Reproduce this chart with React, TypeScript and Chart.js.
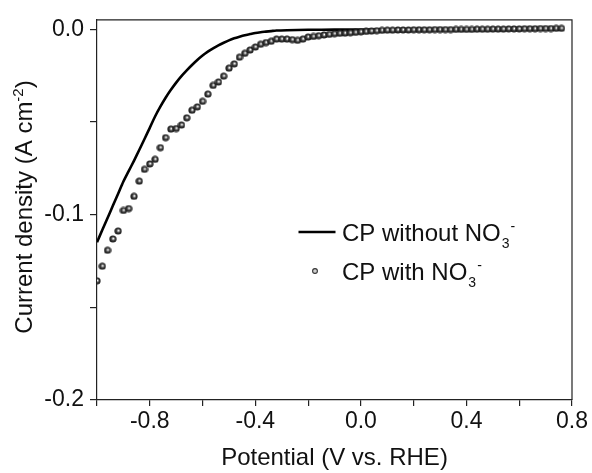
import React, { useEffect, useRef } from "react";
import { Chart, registerables } from "chart.js";

Chart.register(...registerables);

// ---- data ----
const solidX = [
  -1.0, -0.98, -0.96, -0.94, -0.92, -0.9, -0.88, -0.86, -0.84, -0.82, -0.8, -0.78, -0.76, -0.74, -0.72,
  -0.7, -0.68, -0.66, -0.64, -0.62, -0.6, -0.58, -0.56, -0.54, -0.52, -0.5, -0.48, -0.46, -0.44, -0.42,
  -0.4, -0.38, -0.36, -0.34, -0.32, -0.28, -0.2, -0.1, 0.0, 0.2, 0.4, 0.6, 0.76,
];
const solidY = [
  -0.1148, -0.1083, -0.1018, -0.0952, -0.0887, -0.0821, -0.0765, -0.0709, -0.0651, -0.0591, -0.0531, -0.047, -0.0417, -0.0369, -0.0326,
  -0.0287, -0.0252, -0.0221, -0.0192, -0.0165, -0.0141, -0.012, -0.0102, -0.0086, -0.0072, -0.0059, -0.0048, -0.0039, -0.0031, -0.0025,
  -0.0019, -0.0015, -0.0012, -0.0009, -0.0006, -0.0004, -0.0002, -0.0001, -0.0001, 0.0, 0.0, 0.0001, 0.0001,
];

const dotX = [
  -1.0, -0.98, -0.96, -0.94, -0.92, -0.9, -0.88, -0.86, -0.84, -0.82,
  -0.8, -0.78, -0.76, -0.74, -0.72, -0.7, -0.68, -0.66, -0.64, -0.62,
  -0.6, -0.58, -0.56, -0.54, -0.52, -0.5, -0.48, -0.46, -0.44, -0.42,
  -0.4, -0.38, -0.36, -0.34, -0.32, -0.3, -0.28, -0.26, -0.24, -0.22,
  -0.2, -0.18, -0.16, -0.14, -0.12, -0.1, -0.08, -0.06, -0.04, -0.02,
  0.0, 0.02, 0.04, 0.06, 0.08, 0.1, 0.12, 0.14, 0.16, 0.18,
  0.2, 0.22, 0.24, 0.26, 0.28, 0.3, 0.32, 0.34, 0.36, 0.38,
  0.4, 0.42, 0.44, 0.46, 0.48, 0.5, 0.52, 0.54, 0.56, 0.58,
  0.6, 0.62, 0.64, 0.66, 0.68, 0.7, 0.72, 0.74, 0.76,
];
const dotY = [
  -0.1357, -0.1278, -0.1192, -0.1131, -0.1088, -0.0977, -0.0967, -0.0901, -0.0819, -0.0755,
  -0.0726, -0.0701, -0.0638, -0.0584, -0.0538, -0.0535, -0.0516, -0.0477, -0.0436, -0.0418,
  -0.0388, -0.0349, -0.0302, -0.0284, -0.0252, -0.0209, -0.0186, -0.015, -0.0129, -0.0111,
  -0.0095, -0.008, -0.0071, -0.0064, -0.0052, -0.0052, -0.0052, -0.0055, -0.0059, -0.0052,
  -0.0041, -0.0038, -0.0034, -0.003, -0.0027, -0.0023, -0.0021, -0.002, -0.0018, -0.0016,
  -0.0013, -0.0011, -0.0009, -0.0007, -0.0005, -0.0004, -0.0004, -0.0003, -0.0003, -0.0003,
  -0.0002, -0.0002, -0.0002, -0.0002, -0.0001, -0.0001, -0.0001, -0.0001, 0.0, 0.0,
  0.0, 0.0, 0.0001, 0.0001, 0.0001, 0.0002, 0.0002, 0.0002, 0.0003, 0.0003,
  0.0003, 0.0004, 0.0004, 0.0004, 0.0005, 0.0005, 0.0005, 0.0006, 0.0006,
];

const xTicks = [-1.0, -0.8, -0.6, -0.4, -0.2, 0.0, 0.2, 0.4, 0.6, 0.8];
const xTickLabels = ["", "-0.8", "", "-0.4", "", "0.0", "", "0.4", "", "0.8"];
const yTicks = [-0.2, -0.15, -0.1, -0.05, 0.0];
const yTickLabels = ["-0.2", "", "-0.1", "", "0.0"];

const seriesNames = ["CP without NO", "CP with NO"];
const seriesSub = "3";
const seriesSup = "-";
const xTitle = "Potential (V vs. RHE)";
const yTitleMain = "Current density (A cm";
const yTitleSup = "-2";
const yTitleEnd = ")";

const FONT = '"Liberation Sans", Arial, sans-serif';

function labelFor(list: number[], labels: string[], v: number) {
  for (let i = 0; i < list.length; i++) if (Math.abs(list[i] - v) < 1e-6) return labels[i];
  return "";
}

function makeSphere(): HTMLCanvasElement {
  const c = document.createElement("canvas");
  c.width = 8;
  c.height = 8;
  const g = c.getContext("2d")!;
  const grad = g.createRadialGradient(4.5, 3.5, 0.1, 4, 4, 3.7);
  grad.addColorStop(0, "#ffffff");
  grad.addColorStop(0.22, "#b0b0b0");
  grad.addColorStop(0.5, "#404040");
  grad.addColorStop(1, "#0d0d0d");
  g.fillStyle = grad;
  g.beginPath();
  g.arc(4, 4, 3.6, 0, Math.PI * 2);
  g.fill();
  return c;
}

const decorPlugin = {
  id: "decor",
  afterDraw(chart: any) {
    const ctx = chart.ctx as CanvasRenderingContext2D;
    const { left, right, top, bottom } = chart.chartArea;
    ctx.save();
    // frame (top & right)
    ctx.strokeStyle = "#222";
    ctx.lineWidth = 1.2;
    ctx.beginPath();
    ctx.moveTo(left, top);
    ctx.lineTo(right, top);
    ctx.lineTo(right, bottom);
    ctx.stroke();

    ctx.fillStyle = "#111";
    ctx.textBaseline = "alphabetic";

    // x title
    ctx.font = `24px ${FONT}`;
    ctx.textAlign = "center";
    ctx.fillText(xTitle, (left + right) / 2, 465);

    // y title with superscript
    ctx.textAlign = "left";
    ctx.font = `24px ${FONT}`;
    const w1 = ctx.measureText(yTitleMain).width;
    const w3 = ctx.measureText(yTitleEnd).width;
    ctx.font = `15px ${FONT}`;
    const w2 = ctx.measureText(yTitleSup).width;
    const total = w1 + w2 + w3;
    ctx.translate(32, 207);
    ctx.rotate(-Math.PI / 2);
    let x0 = -total / 2;
    ctx.font = `24px ${FONT}`;
    ctx.fillText(yTitleMain, x0, 0);
    x0 += w1;
    ctx.font = `15px ${FONT}`;
    ctx.fillText(yTitleSup, x0, -9);
    x0 += w2;
    ctx.font = `24px ${FONT}`;
    ctx.fillText(yTitleEnd, x0, 0);
    ctx.setTransform(1, 0, 0, 1, 0, 0);

    // legend
    const drawLabel = (text: string, x: number, y: number) => {
      ctx.font = `24px ${FONT}`;
      ctx.textAlign = "left";
      ctx.fillText(text, x, y);
      const w = ctx.measureText(text).width;
      ctx.font = `14px ${FONT}`;
      ctx.fillText(seriesSub, x + w + 1, y + 7);
      const ws = ctx.measureText(seriesSub).width;
      ctx.fillText(seriesSup, x + w + ws + 2, y - 10);
    };
    ctx.strokeStyle = "#000";
    ctx.lineWidth = 2.5;
    ctx.beginPath();
    ctx.moveTo(298.5, 232);
    ctx.lineTo(335.5, 232);
    ctx.stroke();
    drawLabel(seriesNames[0], 342, 241);

    ctx.beginPath();
    ctx.arc(315, 271, 2.4, 0, Math.PI * 2);
    ctx.fillStyle = "#d0d0d0";
    ctx.fill();
    ctx.lineWidth = 1.1;
    ctx.strokeStyle = "#333";
    ctx.stroke();
    ctx.fillStyle = "#111";
    drawLabel(seriesNames[1], 342, 280);

    ctx.restore();
  },
};

export default function App() {
  const ref = useRef<HTMLCanvasElement | null>(null);

  useEffect(() => {
    if (!ref.current) return;
    const sphere = makeSphere();
    const chart = new Chart(ref.current, {
      type: "line",
      data: {
        datasets: [
          {
            label: seriesNames[1],
            data: dotX.map((x, i) => ({ x, y: dotY[i] })),
            showLine: false,
            pointStyle: sphere as any,
            pointRadius: 4,
            borderColor: "#111",
            backgroundColor: "#333",
          },
          {
            label: seriesNames[0],
            data: solidX.map((x, i) => ({ x, y: solidY[i] })),
            borderColor: "#000",
            borderWidth: 2.6,
            pointRadius: 0,
            tension: 0.3,
            fill: false,
          },
        ],
      },
      options: {
        animation: false,
        responsive: false,
        devicePixelRatio: 1,
        layout: { padding: { top: 17, right: 20, left: 0, bottom: 0 } },
        plugins: { legend: { display: false }, tooltip: { enabled: false } },
        scales: {
          x: {
            type: "linear",
            min: -1.0,
            max: 0.8,
            afterBuildTicks: (s: any) => {
              s.ticks = xTicks.map((v) => ({ value: v }));
            },
            afterFit: (s: any) => {
              s.height = 73;
            },
            ticks: {
              autoSkip: false,
              maxRotation: 0,
              padding: 2,
              color: "#111",
              font: { family: FONT, size: 23 },
              callback: (v: any) => labelFor(xTicks, xTickLabels, Number(v)),
            },
            grid: { drawOnChartArea: false, drawTicks: true, tickLength: 6, color: "#222", lineWidth: 1.2 },
            border: { display: true, color: "#222", width: 1.2 },
          },
          y: {
            type: "linear",
            min: -0.2,
            max: 0.0052,
            afterBuildTicks: (s: any) => {
              s.ticks = yTicks.map((v) => ({ value: v }));
            },
            afterFit: (s: any) => {
              s.width = 97;
            },
            ticks: {
              autoSkip: false,
              padding: 6,
              color: "#111",
              font: { family: FONT, size: 23 },
              callback: (v: any) => labelFor(yTicks, yTickLabels, Number(v)),
            },
            grid: { drawOnChartArea: false, drawTicks: true, tickLength: 7, color: "#222", lineWidth: 1.2 },
            border: { display: true, color: "#222", width: 1.2 },
          },
        },
      } as any,
      plugins: [decorPlugin],
    });
    return () => chart.destroy();
  }, []);

  return (
    <div style={{ position: "fixed", left: 0, top: 0, width: 592, height: 473, background: "#fff" }}>
      <canvas ref={ref} width={592} height={473} style={{ display: "block" }} />
    </div>
  );
}
